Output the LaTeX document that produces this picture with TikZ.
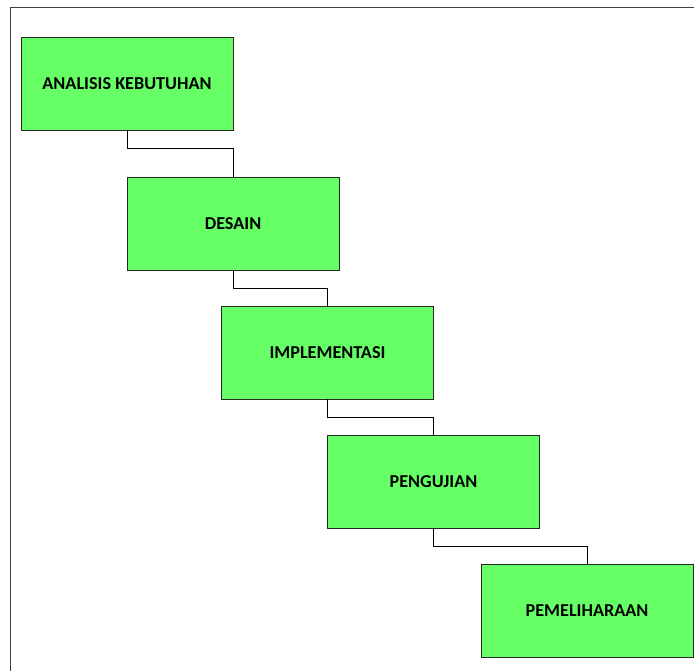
\documentclass[tikz,border=0pt]{standalone}
\usepackage{fontspec}
\setmainfont{Carlito}
\definecolor{hijau}{RGB}{102,255,102}
\tikzset{tahap/.style={draw=black!85, fill=hijau, minimum width=212pt, minimum height=93pt, inner sep=0pt, font=\bfseries\fontsize{18.2}{21}\selectfont}}
\begin{document}
\begin{tikzpicture}[x=1pt, y=-1pt, line width=0.8pt]
	\useasboundingbox (0,0) rectangle (694,671);
	\draw[black!75] (694,7.5) -- (10.5,7.5) -- (10.5,671);
	\node[tahap] (analisis) at (127,83.5) {ANALISIS KEBUTUHAN};
	\node[tahap] (desain) at (233,224) {DESAIN};
	\node[tahap] (implementasi) at (327.5,352.5) {IMPLEMENTASI};
	\node[tahap] (pengujian) at (433.5,481.5) {PENGUJIAN};
	\node[tahap] (pemeliharaan) at (587,610.5) {PEMELIHARAAN};
	\draw (analisis.south) -- ++(0,18) -| (desain.north);
	\draw (desain.south) -- ++(0,17.5) -| (implementasi.north);
	\draw (implementasi.south) -- ++(0,18) -| (pengujian.north);
	\draw (pengujian.south) -- ++(0,18) -| (pemeliharaan.north);
\end{tikzpicture}
\end{document}
